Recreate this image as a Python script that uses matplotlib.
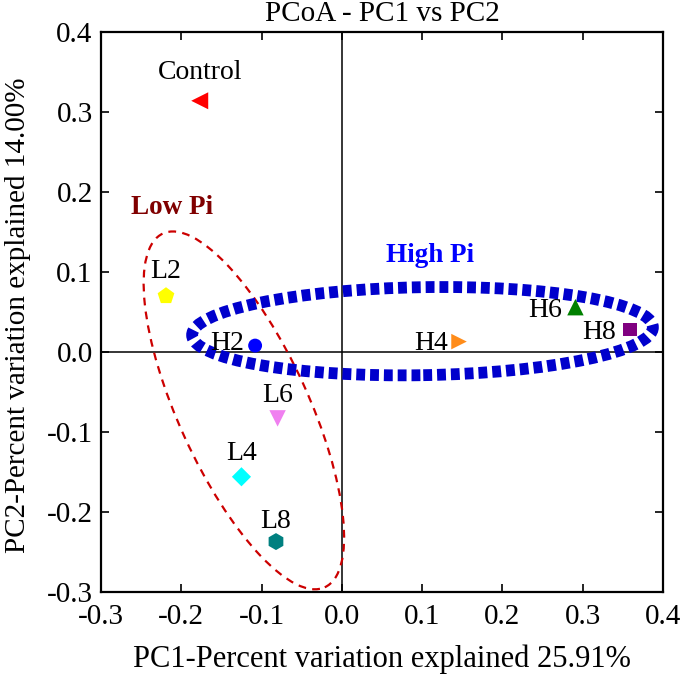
import matplotlib
matplotlib.use('Agg')
import matplotlib.pyplot as plt
from matplotlib.patches import Ellipse
from matplotlib.ticker import FormatStrFormatter

plt.rcParams['font.family'] = ['Liberation Serif', 'DejaVu Serif']

samples = ['Control', 'L2', 'H2', 'L6', 'L4', 'L8', 'H4', 'H6', 'H8']
pc1 = [-0.177, -0.219, -0.108, -0.080, -0.125, -0.082, 0.146, 0.291, 0.359]
pc2 = [0.314, 0.070, 0.008, -0.083, -0.156, -0.237, 0.013, 0.056, 0.028]
markers = ['<', 'p', 'o', 'v', 'D', 'h', '>', '^', 's']
colors = ['#ff0000', '#ffff00', '#0000ff', '#f080f0', '#00ffff', '#008080',
          '#ff8c1a', '#008000', '#800080']
sizes = [150, 160, 100, 140, 95, 150, 125, 140, 90]
# label offsets in points (dx, dy, ha)
label_pos = {
    'Control': (0, 16, 'center'), 'L2': (0, 13, 'center'),
    'H2': (-8, -3, 'right'), 'L6': (0, 11.5, 'center'),
    'L4': (0, 12, 'center'), 'L8': (0, 10, 'center'),
    'H4': (-8, -6, 'right'), 'H6': (-9.5, -7, 'right'), 'H8': (-10, -7, 'right'),
}

fig = plt.figure(figsize=(6.85, 6.85), dpi=100)
ax = fig.add_axes([0.1474, 0.1358, 0.8204, 0.8175])

ax.axhline(0, color='black', lw=1.1, zorder=1)
ax.axvline(0, color='black', lw=1.1, zorder=1)

low = Ellipse((-0.122, -0.073), 0.162, 0.486, angle=24.5, fill=False,
              edgecolor='#cc0000', lw=1.6, ls=(0, (3.5, 2.8)), zorder=2)
ax.add_patch(low)
high = Ellipse((0.1005, 0.026), 0.574, 0.110, angle=1.0, fill=False,
               edgecolor='#0000cc', lw=8.5, ls=(0, (0.75, 0.42)), zorder=2)
ax.add_patch(high)

for name, x, y, m, c, s in zip(samples, pc1, pc2, markers, colors, sizes):
    ax.scatter(x, y, marker=m, color=c, s=s, edgecolors='none', zorder=3)
    dx, dy, ha = label_pos[name]
    ax.annotate(name, (x, y), xytext=(dx, dy), textcoords='offset points',
                ha=ha, va='baseline', fontsize=20)

ax.text(-0.212, 0.181, 'Low Pi', color='#800000', fontsize=19.5,
        fontweight='bold', ha='center', va='center')
ax.text(0.110, 0.120, 'High Pi', color='#0000ff', fontsize=19.5,
        fontweight='bold', ha='center', va='center')

ax.set_xlim(-0.3, 0.4)
ax.set_ylim(-0.3, 0.4)
ax.set_xticks([-0.3, -0.2, -0.1, 0.0, 0.1, 0.2, 0.3, 0.4])
ax.set_yticks([-0.3, -0.2, -0.1, 0.0, 0.1, 0.2, 0.3, 0.4])
ax.xaxis.set_major_formatter(FormatStrFormatter('%.1f'))
ax.yaxis.set_major_formatter(FormatStrFormatter('%.1f'))
ax.tick_params(direction='in', top=True, right=True, length=6, width=1.2,
               labelsize=21)
ax.tick_params(axis='x', pad=9)
ax.tick_params(axis='y', pad=6)
for sp in ax.spines.values():
    sp.set_linewidth(1.6)

ax.set_xlabel('PC1-Percent variation explained 25.91%', fontsize=22)
ax.xaxis.set_label_coords(0.50, -0.093)
ax.set_ylabel('PC2-Percent variation explained 14.00%', fontsize=21)
ax.yaxis.set_label_coords(-0.124, 0.495)
ax.set_title('PCoA - PC1 vs PC2', fontsize=21, pad=8)

fig.savefig('out.png', dpi=100)
